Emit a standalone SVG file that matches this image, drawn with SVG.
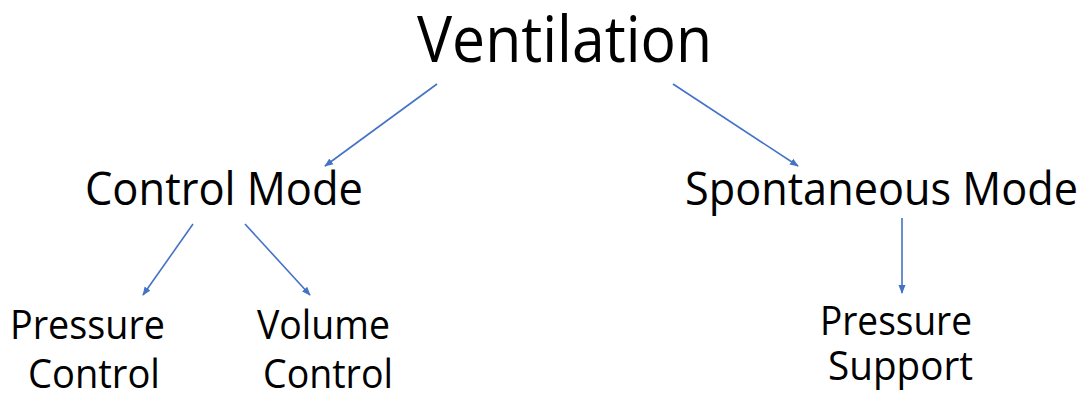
<svg xmlns="http://www.w3.org/2000/svg" width="1086" height="397" viewBox="0 0 1086 397">
<style>
text{font-family:"Open Sans","Noto Sans","Liberation Sans",sans-serif;fill:#000;}
.t1{font-size:64px;}
.t2{font-size:45px;}
.t3{font-size:41px;}
.c{stroke:#4472C4;stroke-width:1.6;fill:none;marker-end:url(#ah);}
</style>
<defs>
<marker id="ah" viewBox="0 0 10 10" refX="9" refY="5" markerWidth="5.5" markerHeight="5.5" orient="auto" markerUnits="strokeWidth">
<path d="M0,1 L10,5 L0,9 z" fill="#4472C4"/>
</marker>
</defs>
<rect width="1086" height="397" fill="#fff"/>
<g id="connectors">
<line class="c" x1="437" y1="84" x2="325" y2="166"/>
<line class="c" x1="673" y1="84" x2="798" y2="166"/>
<line class="c" x1="193" y1="224" x2="143" y2="295"/>
<line class="c" x1="245" y1="224" x2="310" y2="295"/>
<line class="c" x1="902" y1="218" x2="902" y2="293"/>
</g>
<g id="ventilation"><text class="t1" x="417" y="62" textLength="295" lengthAdjust="spacingAndGlyphs">Ventilation</text></g>
<g id="control-mode"><text class="t2" x="85" y="205" textLength="278" lengthAdjust="spacingAndGlyphs">Control Mode</text></g>
<g id="spontaneous-mode"><text class="t2" x="685" y="205" textLength="393" lengthAdjust="spacingAndGlyphs">Spontaneous Mode</text></g>
<g id="pressure-control">
<text class="t3" x="10" y="339" textLength="155" lengthAdjust="spacingAndGlyphs">Pressure</text>
<text class="t3" x="28" y="388" textLength="132" lengthAdjust="spacingAndGlyphs">Control</text>
</g>
<g id="volume-control">
<text class="t3" x="257" y="339" textLength="133" lengthAdjust="spacingAndGlyphs">Volume</text>
<text class="t3" x="263" y="388" textLength="130" lengthAdjust="spacingAndGlyphs">Control</text>
</g>
<g id="pressure-support">
<text class="t3" x="820" y="335" textLength="152" lengthAdjust="spacingAndGlyphs">Pressure</text>
<text class="t3" x="828" y="380" textLength="145" lengthAdjust="spacingAndGlyphs">Support</text>
</g>
</svg>
